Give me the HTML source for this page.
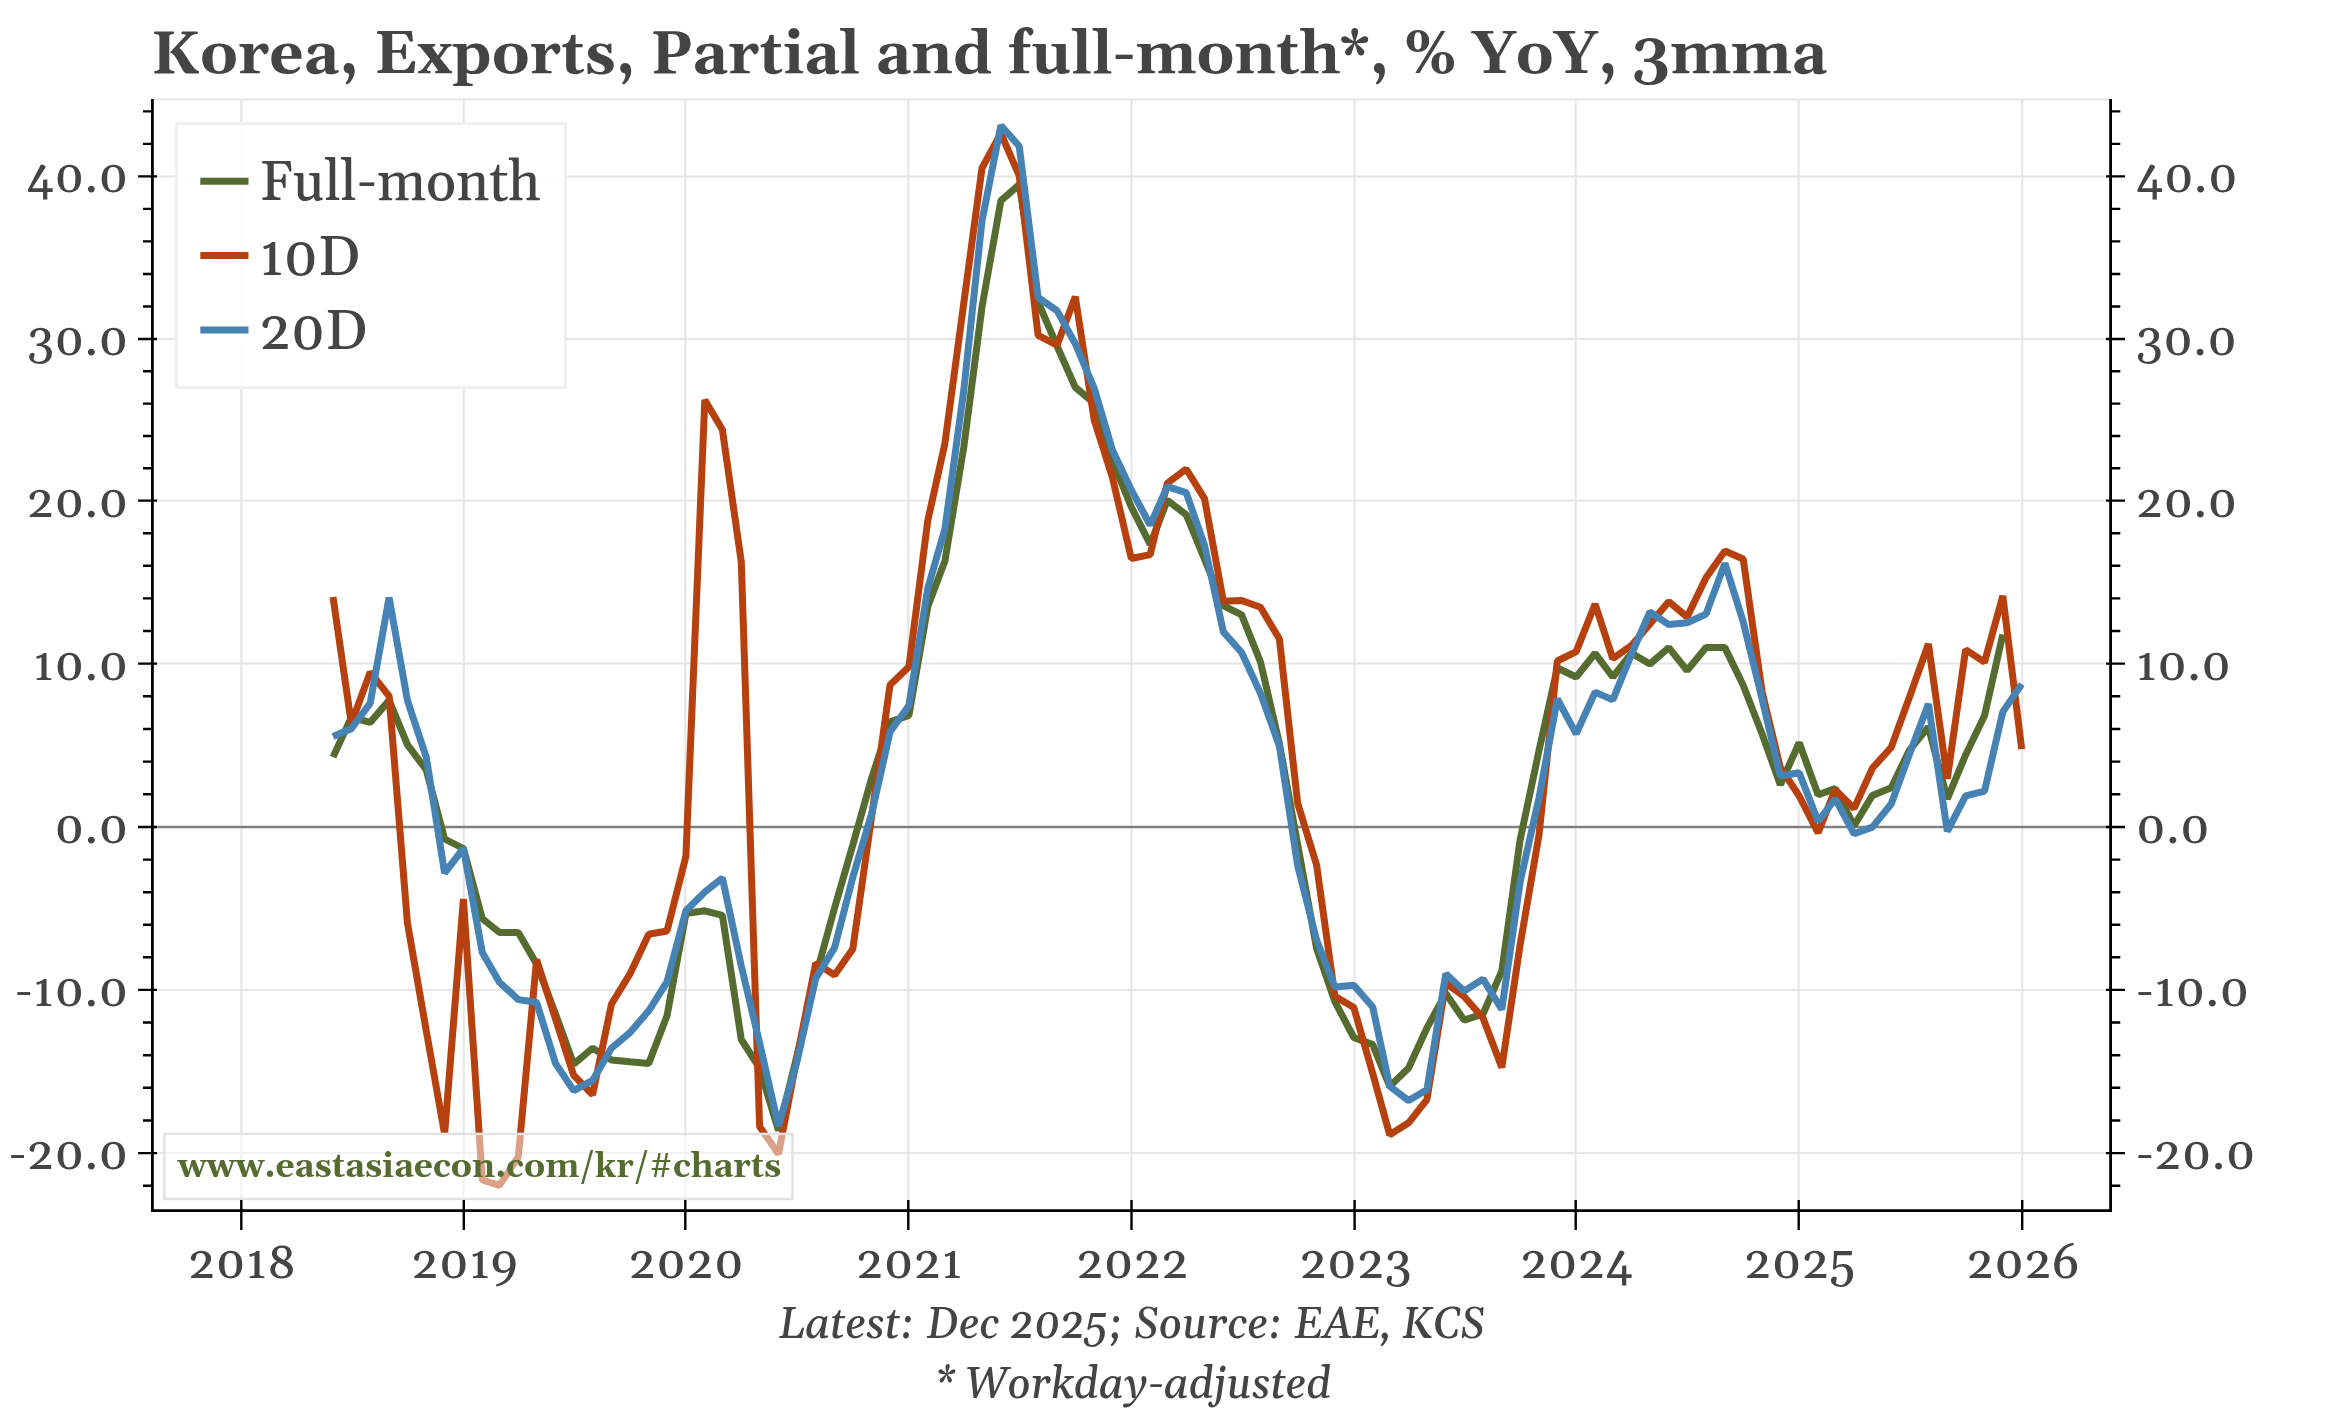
<!DOCTYPE html>
<html><head><meta charset="utf-8"><title>Korea, Exports, Partial and full-month*, % YoY, 3mma</title>
<style>html,body{margin:0;padding:0;background:#fff;width:2332px;height:1413px;overflow:hidden}svg{display:block;will-change:transform}</style>
</head><body>
<svg width="2332" height="1413" viewBox="0 0 2332 1413">
<rect x="0" y="0" width="2332" height="1413" fill="#ffffff"/>
<path d="M152.4 176.4H2110.6 M152.4 339.0H2110.6 M152.4 500.6H2110.6 M152.4 663.6H2110.6 M152.4 989.9H2110.6 M152.4 1153.1H2110.6 M241.3 99.6V1210.6 M463.8 99.6V1210.6 M685.3 99.6V1210.6 M908.3 99.6V1210.6 M1131.5 99.6V1210.6 M1354.6 99.6V1210.6 M1575.7 99.6V1210.6 M1798.7 99.6V1210.6 M2022.2 99.6V1210.6 M152.4 99.6H2110.6" stroke="#e5e5e5" stroke-width="2" fill="none"/>
<path d="M152.4 827.0H2110.6" stroke="#808080" stroke-width="2.6" fill="none"/>
<polyline points="333.0,757.1 351.3,717.4 370.2,722.4 389.1,700.4 407.4,744.6 426.3,770.0 444.6,839.0 463.4,848.5 482.3,918.6 499.4,932.4 518.3,932.4 536.6,964.0 555.5,1014.0 573.7,1064.2 592.6,1048.1 611.5,1060.0 629.8,1061.7 648.7,1063.4 667.0,1015.8 685.9,913.5 704.8,910.8 722.4,915.4 741.3,1039.5 759.6,1068.2 778.5,1130.5 796.8,1056.7 815.7,976.5 834.6,907.9 852.8,845.0 871.7,778.0 890.0,721.9 908.9,715.5 927.8,606.4 944.9,561.1 963.8,447.0 982.0,307.0 1000.9,200.6 1019.2,184.7 1038.1,302.0 1057.0,346.0 1075.3,387.3 1094.2,403.2 1112.4,460.5 1131.3,507.0 1150.2,544.4 1167.3,500.3 1186.2,514.7 1204.5,558.9 1223.4,605.6 1241.6,614.9 1260.5,662.0 1279.4,743.5 1297.7,845.0 1316.6,948.3 1334.9,1001.7 1353.8,1037.5 1372.7,1044.6 1389.7,1086.2 1408.6,1068.0 1426.9,1028.0 1445.8,993.4 1464.1,1020.1 1483.0,1014.0 1501.8,971.2 1520.1,840.0 1539.0,750.6 1557.3,668.0 1576.2,677.0 1595.1,653.3 1612.8,677.0 1631.6,653.2 1649.9,664.0 1668.8,647.6 1687.1,670.5 1706.0,647.6 1724.9,647.6 1743.2,685.2 1762.1,734.0 1780.3,784.7 1799.2,742.8 1818.1,794.8 1835.2,788.6 1854.1,825.8 1872.4,795.4 1891.2,787.8 1909.5,750.1 1928.4,727.0 1947.3,798.8 1965.6,755.0 1984.5,715.7 2002.8,634.5" fill="none" stroke="#556b2f" stroke-width="7.0" stroke-linejoin="bevel" stroke-linecap="butt"/>
<polyline points="333.0,597.0 351.3,723.5 370.2,672.1 389.1,696.1 407.4,922.8 426.3,1031.0 444.6,1134.0 463.4,899.0 482.3,1180.0 499.4,1185.4 518.3,1157.0 536.6,959.5 555.5,1019.0 573.7,1075.3 592.6,1094.8 611.5,1004.0 629.8,974.2 648.7,934.3 667.0,931.0 685.9,856.3 704.8,400.0 722.4,429.8 741.3,562.1 759.6,1126.4 778.5,1154.0 796.8,1058.6 815.7,963.1 834.6,975.0 852.8,949.0 871.7,816.0 890.0,685.0 908.9,666.7 927.8,520.4 944.9,443.4 963.8,303.0 982.0,168.0 1000.9,133.5 1019.2,175.7 1038.1,335.3 1057.0,345.2 1075.3,296.7 1094.2,420.0 1112.4,477.5 1131.3,558.5 1150.2,554.6 1167.3,483.3 1186.2,469.0 1204.5,498.6 1223.4,601.3 1241.6,600.5 1260.5,607.3 1279.4,639.0 1297.7,803.4 1316.6,865.0 1334.9,996.2 1353.8,1007.5 1372.7,1073.5 1389.7,1134.8 1408.6,1122.8 1426.9,1099.6 1445.8,983.0 1464.1,996.5 1483.0,1018.0 1501.8,1067.6 1520.1,945.0 1539.0,835.0 1557.3,661.0 1576.2,651.6 1595.1,604.0 1612.8,658.6 1631.6,645.4 1649.9,624.0 1668.8,601.6 1687.1,617.0 1706.0,577.8 1724.9,551.0 1743.2,559.0 1762.1,692.0 1780.3,767.5 1799.2,796.0 1818.1,832.8 1835.2,789.8 1854.1,808.4 1872.4,768.2 1891.2,747.4 1909.5,697.0 1928.4,644.0 1947.3,778.8 1965.6,649.7 1984.5,662.2 2002.8,596.0 2021.7,749.1" fill="none" stroke="#b7410e" stroke-width="7.0" stroke-linejoin="bevel" stroke-linecap="butt"/>
<polyline points="333.0,736.5 351.3,728.7 370.2,703.2 389.1,597.5 407.4,700.4 426.3,757.3 444.6,873.0 463.4,848.5 482.3,952.5 499.4,982.2 518.3,999.6 536.6,1002.3 555.5,1063.4 573.7,1090.6 592.6,1080.4 611.5,1048.1 629.8,1032.8 648.7,1010.8 667.0,982.0 685.9,910.7 704.8,892.1 722.4,878.1 741.3,966.0 759.6,1043.0 778.5,1126.0 796.8,1062.4 815.7,978.3 834.6,947.6 852.8,877.3 871.7,813.6 890.0,732.1 908.9,705.4 927.8,588.3 944.9,529.0 963.8,390.0 982.0,220.9 1000.9,125.5 1019.2,146.2 1038.1,297.5 1057.0,310.6 1075.3,343.7 1094.2,388.3 1112.4,449.9 1131.3,490.0 1150.2,525.0 1167.3,486.7 1186.2,492.6 1204.5,545.3 1223.4,631.9 1241.6,652.5 1260.5,693.4 1279.4,746.0 1297.7,866.0 1316.6,940.0 1334.9,987.0 1353.8,985.2 1372.7,1007.0 1389.7,1086.2 1408.6,1100.6 1426.9,1089.8 1445.8,973.7 1464.1,991.0 1483.0,979.1 1501.8,1009.5 1520.1,882.0 1539.0,798.0 1557.3,699.0 1576.2,733.8 1595.1,692.1 1612.8,699.9 1631.6,654.0 1649.9,612.0 1668.8,624.6 1687.1,622.7 1706.0,614.1 1724.9,563.4 1743.2,621.8 1762.1,699.0 1780.3,776.0 1799.2,772.8 1818.1,821.5 1835.2,798.8 1854.1,833.8 1872.4,827.1 1891.2,804.0 1909.5,754.0 1928.4,704.0 1947.3,831.3 1965.6,795.9 1984.5,791.2 2002.8,711.9 2021.7,684.1" fill="none" stroke="#4682b4" stroke-width="7.0" stroke-linejoin="bevel" stroke-linecap="butt"/>
<rect x="164.4" y="1133.9" width="628.1" height="65.1" fill="#ffffff" fill-opacity="0.5" stroke="#e2e2e2" stroke-width="2.5"/>
<text x="177.7" y="1176.6" font-family="Gelasio, 'Liberation Serif', serif" font-size="33.4" font-weight="bold" fill="#556b2f" textLength="603.57" lengthAdjust="spacingAndGlyphs">www.eastasiaecon.com/kr/#charts</text>
<rect x="176.5" y="123.6" width="388.9" height="264" fill="#ffffff" fill-opacity="0.9" stroke="#f0f0f0" stroke-width="3"/>
<path d="M200.3 181.2H248.5" stroke="#556b2f" stroke-width="7.0"/>
<text x="259.5" y="199.9" font-family="Gelasio, 'Liberation Serif', serif" font-size="56" font-weight="500" fill="#444444" textLength="281.28" lengthAdjust="spacingAndGlyphs">Full-month</text>
<path d="M200.3 255.6H248.5" stroke="#b7410e" stroke-width="7.0"/>
<text x="259.5" y="274.5" font-family="Gelasio, 'Liberation Serif', serif" font-size="56" font-weight="500" fill="#444444" textLength="100.39" lengthAdjust="spacingAndGlyphs">10D</text>
<path d="M200.3 330.0H248.5" stroke="#4682b4" stroke-width="7.0"/>
<text x="259.5" y="349.1" font-family="Gelasio, 'Liberation Serif', serif" font-size="56" font-weight="500" fill="#444444" textLength="107.61" lengthAdjust="spacingAndGlyphs">20D</text>
<path d="M152.4 99.1V1212.0 M2110.6 99.1V1212.0 M151.0 1210.6H2112.0" stroke="#000" stroke-width="2.8" fill="none"/>
<path d="M138.1 176.4H157 M2106 176.4H2125 M138.1 339.0H157 M2106 339.0H2125 M138.1 500.6H157 M2106 500.6H2125 M138.1 663.6H157 M2106 663.6H2125 M138.1 827.0H157 M2106 827.0H2125 M138.1 989.9H157 M2106 989.9H2125 M138.1 1153.1H157 M2106 1153.1H2125 M143 1185.7H152.4 M2110.6 1185.7H2120.3 M143 1120.5H152.4 M2110.6 1120.5H2120.3 M143 1087.8H152.4 M2110.6 1087.8H2120.3 M143 1055.2H152.4 M2110.6 1055.2H2120.3 M143 1022.5H152.4 M2110.6 1022.5H2120.3 M143 957.3H152.4 M2110.6 957.3H2120.3 M143 924.7H152.4 M2110.6 924.7H2120.3 M143 892.2H152.4 M2110.6 892.2H2120.3 M143 859.6H152.4 M2110.6 859.6H2120.3 M143 794.3H152.4 M2110.6 794.3H2120.3 M143 761.6H152.4 M2110.6 761.6H2120.3 M143 729.0H152.4 M2110.6 729.0H2120.3 M143 696.3H152.4 M2110.6 696.3H2120.3 M143 631.0H152.4 M2110.6 631.0H2120.3 M143 598.4H152.4 M2110.6 598.4H2120.3 M143 565.8H152.4 M2110.6 565.8H2120.3 M143 533.2H152.4 M2110.6 533.2H2120.3 M143 468.3H152.4 M2110.6 468.3H2120.3 M143 436.0H152.4 M2110.6 436.0H2120.3 M143 403.6H152.4 M2110.6 403.6H2120.3 M143 371.3H152.4 M2110.6 371.3H2120.3 M143 306.5H152.4 M2110.6 306.5H2120.3 M143 274.0H152.4 M2110.6 274.0H2120.3 M143 241.4H152.4 M2110.6 241.4H2120.3 M143 208.9H152.4 M2110.6 208.9H2120.3 M143 143.9H152.4 M2110.6 143.9H2120.3 M143 111.4H152.4 M2110.6 111.4H2120.3 M241.3 1200V1230 M463.8 1200V1230 M685.3 1200V1230 M908.3 1200V1230 M1131.5 1200V1230 M1354.6 1200V1230 M1575.7 1200V1230 M1798.7 1200V1230 M2022.2 1200V1230" stroke="#000" stroke-width="2.4" fill="none"/>
<g font-family="Gelasio, 'Liberation Serif', serif" font-size="47" font-weight="500" letter-spacing="0.6" fill="#444444"><text x="128.7" y="192.4" text-anchor="end" textLength="102.14" lengthAdjust="spacingAndGlyphs">40.0</text><text x="2136.0" y="192.4" textLength="102.14" lengthAdjust="spacingAndGlyphs">40.0</text><text x="128.7" y="355.0" text-anchor="end" textLength="101.44" lengthAdjust="spacingAndGlyphs">30.0</text><text x="2136.0" y="355.0" textLength="101.44" lengthAdjust="spacingAndGlyphs">30.0</text><text x="128.7" y="516.6" text-anchor="end" textLength="101.70" lengthAdjust="spacingAndGlyphs">20.0</text><text x="2136.0" y="516.6" textLength="101.70" lengthAdjust="spacingAndGlyphs">20.0</text><text x="128.7" y="679.6" text-anchor="end" textLength="95.58" lengthAdjust="spacingAndGlyphs">10.0</text><text x="2136.0" y="679.6" textLength="95.58" lengthAdjust="spacingAndGlyphs">10.0</text><text x="128.7" y="843.0" text-anchor="end" textLength="74.27" lengthAdjust="spacingAndGlyphs">0.0</text><text x="2136.0" y="843.0" textLength="74.27" lengthAdjust="spacingAndGlyphs">0.0</text><text x="128.7" y="1005.9" text-anchor="end" textLength="113.81" lengthAdjust="spacingAndGlyphs">-10.0</text><text x="2136.0" y="1005.9" textLength="113.81" lengthAdjust="spacingAndGlyphs">-10.0</text><text x="128.7" y="1169.1" text-anchor="end" textLength="119.94" lengthAdjust="spacingAndGlyphs">-20.0</text><text x="2136.0" y="1169.1" textLength="119.94" lengthAdjust="spacingAndGlyphs">-20.0</text><text x="242.5" y="1278.2" text-anchor="middle" textLength="108.34" lengthAdjust="spacingAndGlyphs">2018</text><text x="465.0" y="1278.2" text-anchor="middle" textLength="106.94" lengthAdjust="spacingAndGlyphs">2019</text><text x="686.5" y="1278.2" text-anchor="middle" textLength="115.36" lengthAdjust="spacingAndGlyphs">2020</text><text x="909.5" y="1278.2" text-anchor="middle" textLength="106.45" lengthAdjust="spacingAndGlyphs">2021</text><text x="1132.7" y="1278.2" text-anchor="middle" textLength="112.59" lengthAdjust="spacingAndGlyphs">2022</text><text x="1355.8" y="1278.2" text-anchor="middle" textLength="112.31" lengthAdjust="spacingAndGlyphs">2023</text><text x="1576.9" y="1278.2" text-anchor="middle" textLength="113.02" lengthAdjust="spacingAndGlyphs">2024</text><text x="1799.9" y="1278.2" text-anchor="middle" textLength="111.19" lengthAdjust="spacingAndGlyphs">2025</text><text x="2023.4" y="1278.2" text-anchor="middle" textLength="113.06" lengthAdjust="spacingAndGlyphs">2026</text></g>
<text x="151" y="72.9" font-family="Gelasio, 'Liberation Serif', serif" font-size="60" font-weight="bold" fill="#444444" textLength="1676.25" lengthAdjust="spacingAndGlyphs">Korea, Exports, Partial and full-month*, % YoY, 3mma</text>
<text x="1131.7" y="1338.2" text-anchor="middle" font-family="Gelasio, 'Liberation Serif', serif" font-size="43.4" font-style="italic" font-weight="500" fill="#444444" textLength="705.94" lengthAdjust="spacingAndGlyphs">Latest: Dec 2025; Source: EAE, KCS</text>
<text x="1132.9" y="1397.9" text-anchor="middle" font-family="Gelasio, 'Liberation Serif', serif" font-size="43.4" font-style="italic" font-weight="500" fill="#444444" textLength="396.44" lengthAdjust="spacingAndGlyphs">* Workday-adjusted</text>
</svg>
</body></html>
